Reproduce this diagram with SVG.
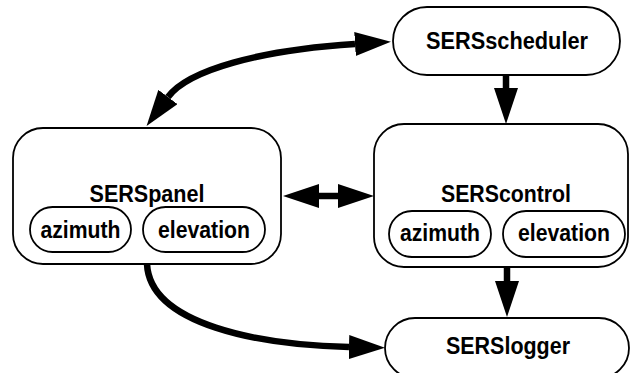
<svg xmlns="http://www.w3.org/2000/svg" width="631" height="373" viewBox="0 0 631 373">
  <style>
    .box { fill: #ffffff; stroke: #000000; stroke-width: 1.8; }
    .lbl { font-family: "Liberation Sans", Arial, sans-serif; font-weight: bold; font-size: 23px; fill: #000000; text-anchor: middle; }
    .con { fill: none; stroke: #000000; stroke-width: 6.5; }
  </style>
  <defs>
    <marker id="ah" viewBox="0 0 36 24" markerWidth="36" markerHeight="24" markerUnits="userSpaceOnUse" refX="0" refY="12" orient="auto-start-reverse">
      <path d="M0,0 L36,12 L0,24 Z" fill="#000000"/>
    </marker>
  </defs>
  <rect width="631" height="373" fill="#ffffff"/>

  <g id="connectors">
    <path class="con" d="M355,44 C260,50 188,70 168,97" marker-start="url(#ah)" marker-end="url(#ah)"/>
    <line class="con" x1="506" y1="75" x2="506" y2="88" marker-end="url(#ah)"/>
    <line class="con" x1="319" y1="196" x2="338" y2="196" marker-start="url(#ah)" marker-end="url(#ah)"/>
    <line class="con" x1="507" y1="267" x2="507" y2="281" marker-end="url(#ah)"/>
    <path class="con" d="M147,264 C150,325 260,345 349,347" marker-end="url(#ah)"/>
  </g>

  <g id="SERSscheduler">
    <rect class="box" x="393" y="7" width="227" height="68" rx="34"/>
    <text class="lbl" x="507" y="49" textLength="162" lengthAdjust="spacingAndGlyphs">SERSscheduler</text>
  </g>

  <g id="SERSpanel">
    <rect class="box" x="13" y="128" width="268" height="136" rx="30"/>
    <text class="lbl" x="147" y="202" textLength="115" lengthAdjust="spacingAndGlyphs">SERSpanel</text>
    <g id="SERSpanel-azimuth">
      <rect class="box" x="30" y="207" width="101" height="45" rx="22.5"/>
      <text class="lbl" x="80.5" y="238" textLength="80" lengthAdjust="spacingAndGlyphs">azimuth</text>
    </g>
    <g id="SERSpanel-elevation">
      <rect class="box" x="143" y="207" width="122" height="45" rx="22.5"/>
      <text class="lbl" x="204" y="238" textLength="92" lengthAdjust="spacingAndGlyphs">elevation</text>
    </g>
  </g>

  <g id="SERScontrol">
    <rect class="box" x="374" y="124" width="254" height="143" rx="30"/>
    <text class="lbl" x="506" y="202" textLength="130" lengthAdjust="spacingAndGlyphs">SERScontrol</text>
    <g id="SERScontrol-azimuth">
      <rect class="box" x="389" y="211" width="102" height="46" rx="23"/>
      <text class="lbl" x="440" y="241" textLength="80" lengthAdjust="spacingAndGlyphs">azimuth</text>
    </g>
    <g id="SERScontrol-elevation">
      <rect class="box" x="503" y="211" width="122" height="46" rx="23"/>
      <text class="lbl" x="564" y="241" textLength="92" lengthAdjust="spacingAndGlyphs">elevation</text>
    </g>
  </g>

  <g id="SERSlogger">
    <rect class="box" x="385" y="318" width="244" height="60" rx="30"/>
    <text class="lbl" x="508" y="354" textLength="124" lengthAdjust="spacingAndGlyphs">SERSlogger</text>
  </g>
</svg>
